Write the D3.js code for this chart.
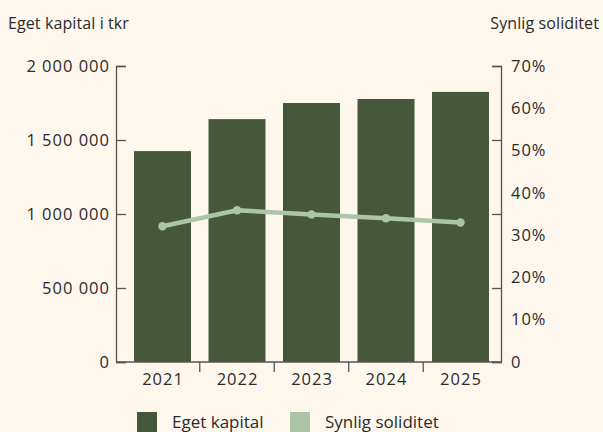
<!DOCTYPE html>
<html><head><meta charset="utf-8">
<script src="https://cdn.jsdelivr.net/npm/d3@7"></script>
<style>
html,body{margin:0;padding:0;background:#fef7ee;}
svg{display:block;font-family:"Open Sans",sans-serif;}
</style></head><body>
<svg id="c" width="603" height="432"></svg>
<script>
const years = ["2021","2022","2023","2024","2025"];
const egetKapital = [1425000, 1641000, 1750000, 1777000, 1825000];
const soliditet = [32.1, 35.9, 34.9, 34.0, 33.0];
const leftTicks = [0, 500000, 1000000, 1500000, 2000000];
const rightLabels = [0, 10, 20, 30, 40, 50, 60, 70];
const legendLabels = ["Eget kapital", "Synlig soliditet"];

const W = 603, H = 432;
const barColor = "#47573b", lineColor = "#adc5a7", textColor = "#2b2b2b", axisColor = "#555";
const svg = d3.select("#c");
svg.append("rect").attr("width", W).attr("height", H).attr("fill", "#fef7ee");

const x0 = 116, x1 = 501, yTop = 66, yBot = 362;
const x = d3.scaleBand().domain(years).range([116.5, 506.5]).paddingInner(0.235).paddingOuter(0.235);
const yL = d3.scaleLinear().domain([0, 2000000]).range([yBot, yTop]);
const yR = d3.scaleLinear().domain([0, 70]).range([yBot, yTop]);
const fmt = v => d3.format(",")(v).replace(/,/g, " ");
const tickFont = 16.5, tickSpacing = 1;

// bars
svg.append("g").selectAll("rect").data(years).join("rect")
  .attr("x", d => x(d)).attr("width", x.bandwidth())
  .attr("y", (d, i) => yL(egetKapital[i])).attr("height", (d, i) => yBot - yL(egetKapital[i]))
  .attr("fill", barColor);

// left axis
const gl = svg.append("g").attr("transform", `translate(${x0},0)`)
  .call(d3.axisRight(yL).tickValues(leftTicks).tickSize(10).tickFormat(""));
gl.select(".domain").attr("stroke", axisColor).attr("stroke-width", 1.3);
gl.selectAll(".tick line").attr("stroke", axisColor).attr("stroke-width", 1.3);
svg.append("g").selectAll("text").data(leftTicks).join("text")
  .attr("x", 110).attr("y", d => yL(d)).attr("dy", "0.35em").attr("text-anchor", "end")
  .attr("font-size", tickFont).attr("letter-spacing", tickSpacing).attr("fill", textColor).text(d => fmt(d));

// right axis
const gr = svg.append("g").attr("transform", `translate(${x1},0)`)
  .call(d3.axisLeft(yL).tickValues(leftTicks).tickSize(9).tickFormat(""));
gr.select(".domain").attr("stroke", axisColor).attr("stroke-width", 1.3);
gr.selectAll(".tick line").attr("stroke", axisColor).attr("stroke-width", 1.3);
svg.append("g").selectAll("text").data(rightLabels).join("text")
  .attr("x", 511).attr("y", d => yR(d)).attr("dy", "0.35em").attr("text-anchor", "start")
  .attr("font-size", tickFont).attr("letter-spacing", tickSpacing).attr("fill", textColor).text(d => d === 0 ? "0" : d + "%");

// bottom axis
svg.append("line").attr("x1", x0).attr("x2", x1).attr("y1", yBot).attr("y2", yBot)
  .attr("stroke", axisColor).attr("stroke-width", 1.3);
const seps = years.slice(1).map((d, i) => (x(years[i]) + x.bandwidth() + x(d)) / 2);
svg.append("g").selectAll("line").data(seps).join("line")
  .attr("x1", d => d).attr("x2", d => d).attr("y1", yBot).attr("y2", yBot + 10)
  .attr("stroke", axisColor).attr("stroke-width", 1.3);
svg.append("g").selectAll("text").data(years).join("text")
  .attr("x", d => x(d) + x.bandwidth() / 2 + 0.5).attr("y", 385).attr("text-anchor", "middle")
  .attr("font-size", tickFont).attr("letter-spacing", tickSpacing).attr("fill", textColor).text(d => d);

// line
const pts = years.map((d, i) => [x(d) + x.bandwidth() / 2, yR(soliditet[i])]);
svg.append("path").attr("d", d3.line()(pts)).attr("fill", "none")
  .attr("stroke", lineColor).attr("stroke-width", 4.5);
svg.append("g").selectAll("circle").data(pts).join("circle")
  .attr("cx", d => d[0]).attr("cy", d => d[1]).attr("r", 4.2).attr("fill", lineColor);

// titles
svg.append("text").attr("x", 8).attr("y", 29).attr("font-size", 16).attr("letter-spacing", 0.1).attr("fill", textColor).text("Eget kapital i tkr");
svg.append("text").attr("x", 599).attr("y", 29).attr("text-anchor", "end").attr("font-size", 16).attr("letter-spacing", 0.1).attr("fill", textColor).text("Synlig soliditet");

// legend
const leg = svg.append("g");
const legX = [137, 290];
const legC = [barColor, lineColor];
legendLabels.forEach((l, i) => {
  leg.append("rect").attr("x", legX[i]).attr("y", 412).attr("width", 20).attr("height", 20).attr("fill", legC[i]);
  leg.append("text").attr("x", legX[i] + 35).attr("y", 428).attr("font-size", 17).attr("fill", textColor).text(l);
});
</script>
</body></html>
